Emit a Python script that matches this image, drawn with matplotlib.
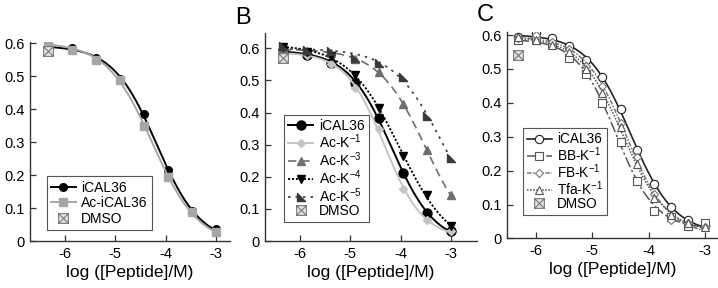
import matplotlib
matplotlib.use("Agg")
import matplotlib.pyplot as plt
import numpy as np
from matplotlib.path import Path

plt.rcParams["font.family"] = ["Liberation Sans", "DejaVu Sans"]

# concentrations, log10(M)
x_ab = [-6.34, -5.86, -5.39, -4.91, -4.43, -3.95, -3.48, -3.0]
x_c = [-6.31, -6.0, -5.72, -5.42, -5.12, -4.82, -4.5, -4.21, -3.9, -3.61, -3.31, -3.0]

# panel A
a_ical36 = [0.59, 0.585, 0.555, 0.49, 0.385, 0.215, 0.09, 0.036]
a_ac_ical36 = [0.60, 0.58, 0.55, 0.489, 0.35, 0.193, 0.088, 0.026]
a_dmso = 0.575

# panel B
b_ical36 = [0.595, 0.58, 0.555, 0.493, 0.384, 0.213, 0.087, 0.031]
b_ack1 = [0.59, 0.578, 0.55, 0.475, 0.35, 0.163, 0.064, 0.031]
b_ack3 = [0.60, 0.592, 0.585, 0.565, 0.527, 0.427, 0.283, 0.142]
b_ack4 = [0.605, 0.589, 0.575, 0.516, 0.415, 0.264, 0.142, 0.046]
b_ack5 = [0.607, 0.596, 0.592, 0.571, 0.555, 0.509, 0.39, 0.257]
b_dmso = 0.571

# panel C
c_ical36 = [0.594, 0.606, 0.591, 0.567, 0.525, 0.475, 0.383, 0.262, 0.16, 0.093, 0.053, 0.037]
c_bbk1 = [0.586, 0.585, 0.574, 0.532, 0.485, 0.40, 0.285, 0.17, 0.082, 0.062, 0.038, 0.045]
c_fbk1 = [0.59, 0.60, 0.58, 0.56, 0.51, 0.45, 0.34, 0.24, 0.13, 0.055, 0.045, 0.033]
c_tfak1 = [0.595, 0.585, 0.57, 0.55, 0.50, 0.43, 0.33, 0.22, 0.12, 0.07, 0.045, 0.035]
c_dmso = 0.54


def hill_fit(x, y):
    # grid search on midpoint / slope, top and bottom by least squares
    x = np.asarray(x)
    y = np.asarray(y)
    best = None
    for c in np.linspace(-6.0, -2.0, 201):
        for n in np.linspace(0.5, 2.5, 81):
            g = 1.0 / (1.0 + 10 ** ((x - c) * n))
            A = np.column_stack([1 - g, g])
            coef, *_ = np.linalg.lstsq(A, y, rcond=None)
            err = np.sum((A @ coef - y) ** 2)
            if best is None or err < best[0]:
                best = (err, c, n, coef)
    _, c, n, (bot, top) = best
    xs = np.linspace(x.min(), x.max(), 200)
    return xs, bot + (top - bot) / (1.0 + 10 ** ((xs - c) * n))


# boxed-X marker for DMSO
box_x = Path(
    [(-1, -1), (1, -1), (1, 1), (-1, 1), (-1, -1), (-1, -1), (1, 1), (-1, 1), (1, -1)],
    [Path.MOVETO, Path.LINETO, Path.LINETO, Path.LINETO, Path.CLOSEPOLY,
     Path.MOVETO, Path.LINETO, Path.MOVETO, Path.LINETO],
)
corner_tri = Path([(-1, 1), (-1, -1), (1, -1), (-1, 1)],
                  [Path.MOVETO, Path.LINETO, Path.LINETO, Path.CLOSEPOLY])


def series(ax, x, y, label, color, ls, marker, ms, mfc=None, lw=1.2, mew=1.0):
    xs, ys = hill_fit(x, y)
    ax.plot(xs, ys, color=color, ls=ls, lw=lw)
    ax.plot(x, y, ls="none", marker=marker, ms=ms, color=color,
            mfc=mfc if mfc else color, mec=color, mew=mew)
    # legend proxy
    ax.plot([], [], color=color, ls=ls, lw=lw, marker=marker, ms=ms,
            mfc=mfc if mfc else color, mec=color, mew=mew, label=label)


def dmso(ax, x, y):
    ax.plot([x], [y], ls="none", marker=box_x, ms=7, mfc="#e6e6e6",
            mec="#777777", mew=0.8, label="DMSO")


def style(ax, xlim, ylim):
    ax.set_xlim(*xlim)
    ax.set_ylim(*ylim)
    ax.set_xticks([-6, -5, -4, -3])
    ax.set_xticklabels(["-6", "-5", "-4", "-3"])
    ax.set_yticks([0, 0.1, 0.2, 0.3, 0.4, 0.5, 0.6])
    ax.set_yticklabels(["0", "0.1", "0.2", "0.3", "0.4", "0.5", "0.6"])
    for s in ["top", "right"]:
        ax.spines[s].set_visible(False)
    for s in ["left", "bottom"]:
        ax.spines[s].set_linewidth(1.0)
        ax.spines[s].set_color("#333333")
    ax.tick_params(direction="in", length=4, width=0.9, labelsize=10.5,
                   color="#333333", pad=4)
    ax.set_xlabel("log ([Peptide]/M)", fontsize=12.5, labelpad=3)


def legend(ax, anchor, size, spacing):
    lg = ax.legend(loc="lower left", bbox_to_anchor=anchor, borderaxespad=0,
                   fontsize=size, handlelength=1.8, handletextpad=0.4,
                   labelspacing=spacing, borderpad=0.3, fancybox=False,
                   framealpha=1, edgecolor="#555555")
    lg.get_frame().set_linewidth(0.8)


fig = plt.figure(figsize=(7.18, 2.88), dpi=100)
ax_a = fig.add_axes([0.0418, 0.163, 0.2786, 0.692])
ax_b = fig.add_axes([0.369, 0.163, 0.2953, 0.722])
ax_c = fig.add_axes([0.706, 0.172, 0.294, 0.718])

sup = lambda s: "$^{\\mathregular{" + s + "}}$"

# A
series(ax_a, x_ab, a_ical36, "iCAL36", "black", "-", "o", 5.5, lw=1.4)
series(ax_a, x_ab, a_ac_ical36, "Ac-iCAL36", "#a6a6a6", "-", "s", 5.5, lw=1.4)
dmso(ax_a, x_ab[0], a_dmso)
style(ax_a, (-6.696, -2.72), (0, 0.604))
legend(ax_a, (0.083, 0.055), 10, 0.12)

# B
series(ax_b, x_ab, b_ical36, "iCAL36", "black", "-", "o", 6.5, lw=1.4)
series(ax_b, x_ab, b_ack1, "Ac-K" + sup("-1"), "#c4c4c4", "-", "D", 4.5, lw=1.4)
series(ax_b, x_ab, b_ack3, "Ac-K" + sup("-3"), "#6e6e6e", (0, (5, 3)), "^", 6, lw=1.2)
series(ax_b, x_ab, b_ack4, "Ac-K" + sup("-4"), "black", (0, (1.2, 1)), "v", 6, lw=1.3)
series(ax_b, x_ab, b_ack5, "Ac-K" + sup("-5"), "#3a3a3a", (0, (1.5, 3)), corner_tri, 6, lw=1.2)
dmso(ax_b, x_ab[0], b_dmso)
style(ax_b, (-6.696, -2.48), (0, 0.647))
legend(ax_b, (0.091, 0.09), 10, -0.05)

# C
series(ax_c, x_c, c_ical36, "iCAL36", "#222222", "-", "o", 6, mfc="white", lw=1.2, mew=0.8)
series(ax_c, x_c, c_bbk1, "BB-K" + sup("-1"), "#555555", (0, (7, 2, 1.5, 2)), "s", 6, mfc="white", lw=1.1, mew=0.8)
series(ax_c, x_c, c_fbk1, "FB-K" + sup("-1"), "#777777", (0, (3, 1, 1, 1)), "D", 4.5, mfc="white", lw=1.1, mew=0.8)
series(ax_c, x_c, c_tfak1, "Tfa-K" + sup("-1"), "#555555", (0, (1, 1)), "^", 6, mfc="white", lw=1.1, mew=0.8)
dmso(ax_c, x_c[0], c_dmso)
style(ax_c, (-6.514, -2.773), (0, 0.61))
legend(ax_c, (0.076, 0.114), 9.8, -0.1)

fig.text(0.328, 0.975, "B", fontsize=17, va="top", ha="left")
fig.text(0.664, 0.985, "C", fontsize=17, va="top", ha="left")

fig.savefig("out.png", dpi=100)
